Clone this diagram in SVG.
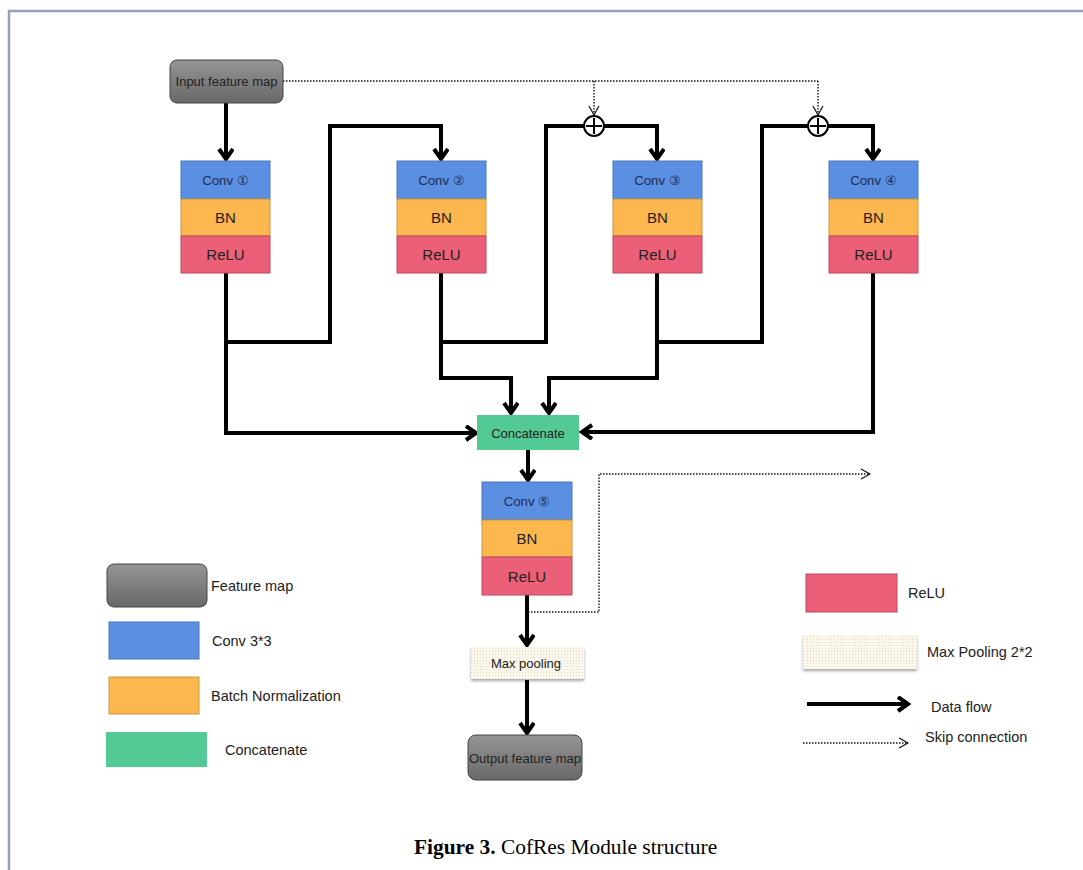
<svg xmlns="http://www.w3.org/2000/svg" width="1083" height="870" viewBox="0 0 1083 870">
  <style>
    .lbl { font-family: "Liberation Sans", Arial, sans-serif; font-size: 13px; fill: #222; text-anchor: middle; dominant-baseline: central; }
    .leg { font-family: "Liberation Sans", Arial, sans-serif; font-size: 14.5px; fill: #222; dominant-baseline: central; }
    .ct { fill: #1e2d55; font-size: 13.3px; }
    .big { font-size: 15px; }
    .conv { fill: #5a8fe2; stroke: #4a76b8; stroke-width: 1; }
    .bn { fill: #fdb74f; stroke: #c9953f; stroke-width: 1; }
    .relu { fill: #ec5f78; stroke: #b84a5c; stroke-width: 1; }
    .cat { fill: #53c995; }
    .fmap { fill: url(#grayGrad); stroke: #444; stroke-width: 1; }
    .pool { fill: url(#dots); }
    .flow { fill: none; stroke: #000; stroke-width: 4; stroke-linejoin: miter; }
    .skip { fill: none; stroke: #111; stroke-width: 1.4; stroke-dasharray: 1.5 1.5; }
    .sum { fill: #fff; stroke: #000; stroke-width: 2; }
  </style>
  <defs>
    <linearGradient id="grayGrad" x1="0" y1="0" x2="0" y2="1">
      <stop offset="0" stop-color="#959595"/>
      <stop offset="1" stop-color="#686868"/>
    </linearGradient>
    <pattern id="dots" width="3" height="3" patternUnits="userSpaceOnUse">
      <rect width="3" height="3" fill="#fbf7ea"/>
      <rect width="1" height="1" fill="#e2dccb"/>
    </pattern>
    <filter id="shadow" x="-10%" y="-20%" width="120%" height="160%">
      <feDropShadow dx="0" dy="2" stdDeviation="1.5" flood-color="#000" flood-opacity="0.35"/>
    </filter>
    <marker id="arrow" markerUnits="userSpaceOnUse" markerWidth="20" markerHeight="20" refX="13" refY="8" orient="auto">
      <path d="M3,1 L13,8 L3,15" fill="none" stroke="#000" stroke-width="4"/>
    </marker>
    <marker id="skipArrow" markerUnits="userSpaceOnUse" markerWidth="16" markerHeight="16" refX="11" refY="6" orient="auto">
      <path d="M2,1 L11,6 L2,11" fill="none" stroke="#111" stroke-width="1.2"/>
    </marker>
  </defs>

  <rect width="1083" height="870" fill="#fff"/>
  <!-- page frame -->
  <path d="M9,870 V11 H1083" fill="none" stroke="#93a3bb" stroke-width="2.5"/>

  <!-- connectors -->
  <g id="connectors">
    <path class="flow" d="M226,103 V159" marker-end="url(#arrow)"/>
    <path class="flow" d="M226,273 V342 H330 V126 H441 V159" marker-end="url(#arrow)"/>
    <path class="flow" d="M226,342 V433 H476" marker-end="url(#arrow)"/>
    <path class="flow" d="M441,273 V342 H546 V126 H657 V159" marker-end="url(#arrow)"/>
    <path class="flow" d="M441,342 V378 H511 V413" marker-end="url(#arrow)"/>
    <path class="flow" d="M657,273 V342 H762 V126 H873 V159" marker-end="url(#arrow)"/>
    <path class="flow" d="M657,342 V378 H549 V413" marker-end="url(#arrow)"/>
    <path class="flow" d="M873,273 V432 H582" marker-end="url(#arrow)"/>
    <path class="flow" d="M528,450 V480" marker-end="url(#arrow)"/>
    <path class="flow" d="M527,595 V645" marker-end="url(#arrow)"/>
    <path class="flow" d="M527,680 V733" marker-end="url(#arrow)"/>
    <!-- skip connections -->
    <path class="skip" d="M283,81 H818"/>
    <path class="skip" d="M594,81 V115" marker-end="url(#skipArrow)"/>
    <path class="skip" d="M818,81 V115" marker-end="url(#skipArrow)"/>
    <path class="skip" d="M528,612 H599 V474 H870" marker-end="url(#skipArrow)"/>
    <!-- element-wise sums -->
    <circle class="sum" cx="594" cy="126" r="10"/>
    <path d="M594,118 V134 M586,126 H602" stroke="#000" stroke-width="2"/>
    <circle class="sum" cx="818" cy="126" r="10"/>
    <path d="M818,118 V134 M810,126 H826" stroke="#000" stroke-width="2"/>
  </g>

  <g id="input">
    <rect class="fmap" x="170" y="60" width="113" height="43" rx="7"/>
    <text class="lbl" x="226.5" y="81.5" font-size="12.6">Input feature map</text>
  </g>

  <g id="block1">
    <rect class="conv" x="181" y="161" width="89" height="38"/>
    <rect class="bn" x="181" y="199" width="89" height="37"/>
    <rect class="relu" x="181" y="236" width="89" height="37"/>
    <text class="lbl ct" x="225.5" y="180">Conv ①</text>
    <text class="lbl big" x="225.5" y="217.5">BN</text>
    <text class="lbl big" x="225.5" y="254.5">ReLU</text>
  </g>
  <g id="block2">
    <rect class="conv" x="397" y="161" width="89" height="38"/>
    <rect class="bn" x="397" y="199" width="89" height="37"/>
    <rect class="relu" x="397" y="236" width="89" height="37"/>
    <text class="lbl ct" x="441.5" y="180">Conv ②</text>
    <text class="lbl big" x="441.5" y="217.5">BN</text>
    <text class="lbl big" x="441.5" y="254.5">ReLU</text>
  </g>
  <g id="block3">
    <rect class="conv" x="613" y="161" width="89" height="38"/>
    <rect class="bn" x="613" y="199" width="89" height="37"/>
    <rect class="relu" x="613" y="236" width="89" height="37"/>
    <text class="lbl ct" x="657.5" y="180">Conv ③</text>
    <text class="lbl big" x="657.5" y="217.5">BN</text>
    <text class="lbl big" x="657.5" y="254.5">ReLU</text>
  </g>
  <g id="block4">
    <rect class="conv" x="829" y="161" width="89" height="38"/>
    <rect class="bn" x="829" y="199" width="89" height="37"/>
    <rect class="relu" x="829" y="236" width="89" height="37"/>
    <text class="lbl ct" x="873.5" y="180">Conv ④</text>
    <text class="lbl big" x="873.5" y="217.5">BN</text>
    <text class="lbl big" x="873.5" y="254.5">ReLU</text>
  </g>

  <g id="concat">
    <rect class="cat" x="477" y="415" width="102" height="35"/>
    <text class="lbl" x="528" y="433">Concatenate</text>
  </g>

  <g id="block5">
    <rect class="conv" x="482" y="482" width="90" height="38"/>
    <rect class="bn" x="482" y="520" width="90" height="37"/>
    <rect class="relu" x="482" y="557" width="90" height="38"/>
    <text class="lbl ct" x="527" y="501">Conv ⑤</text>
    <text class="lbl big" x="527" y="538.5">BN</text>
    <text class="lbl big" x="527" y="576">ReLU</text>
  </g>

  <g id="maxpool">
    <rect class="pool" x="471" y="647" width="113" height="32" filter="url(#shadow)"/>
    <text class="lbl" x="526" y="663" font-size="12">Max pooling</text>
  </g>

  <g id="output">
    <rect class="fmap" x="468" y="735" width="114" height="45" rx="8"/>
    <text class="lbl" x="525" y="758" font-size="12">Output feature map</text>
  </g>

  <!-- legend -->
  <g id="legend">
    <rect class="fmap" x="107" y="564" width="100" height="43" rx="7"/>
    <text class="leg" x="211" y="586">Feature map</text>
    <rect class="conv" x="109" y="622" width="90" height="37"/>
    <text class="leg" x="212" y="641">Conv 3*3</text>
    <rect class="bn" x="109" y="677" width="90" height="37"/>
    <text class="leg" x="211" y="696">Batch Normalization</text>
    <rect class="cat" x="106" y="732" width="101" height="35"/>
    <text class="leg" x="225" y="750">Concatenate</text>

    <rect class="relu" x="806" y="574" width="91" height="38"/>
    <text class="leg" x="908" y="593">ReLU</text>
    <rect class="pool" x="803" y="635" width="114" height="34" filter="url(#shadow)"/>
    <text class="leg" x="927" y="652">Max Pooling 2*2</text>
    <path class="flow" d="M807,704 H908" marker-end="url(#arrow)"/>
    <text class="leg" x="931" y="707">Data flow</text>
    <path class="skip" d="M803,743 H908" marker-end="url(#skipArrow)"/>
    <text class="leg" x="925" y="737">Skip connection</text>
  </g>

  <text x="414" y="854" font-family="'Liberation Serif', 'Times New Roman', serif" font-size="21.4" fill="#000"><tspan font-weight="bold">Figure 3.</tspan> CofRes Module structure</text>
</svg>
